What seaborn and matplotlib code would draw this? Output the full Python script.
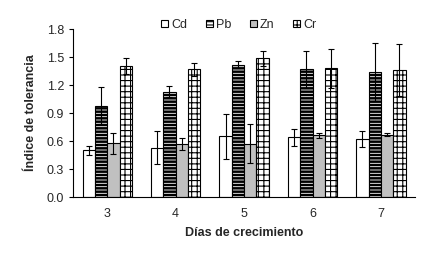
import numpy as np
import pandas as pd
import seaborn as sns
import matplotlib
matplotlib.use("Agg")
import matplotlib.pyplot as plt

days = ["3", "4", "5", "6", "7"]
metals = ["Cd", "Pb", "Zn", "Cr"]
cd = [0.50, 0.53, 0.65, 0.64, 0.62]
pb = [0.98, 1.13, 1.42, 1.37, 1.34]
zn = [0.575, 0.565, 0.57, 0.66, 0.67]
cr = [1.405, 1.37, 1.485, 1.38, 1.36]
cd_err = [0.045, 0.18, 0.24, 0.09, 0.085]
pb_err = [0.20, 0.06, 0.035, 0.20, 0.31]
zn_err = [0.115, 0.065, 0.21, 0.03, 0.02]
cr_err = [0.09, 0.07, 0.085, 0.21, 0.28]

colors = ["white", "black", "#c0c0c0", "white"]
hatches = [None, "-----", None, "+++"]

sns.set_style("white")
plt.rcParams["font.family"] = ["Liberation Sans", "DejaVu Sans"]
plt.rcParams["font.size"] = 9
plt.rcParams["hatch.linewidth"] = 0.8

vals = [cd, pb, zn, cr]
errs = [cd_err, pb_err, zn_err, cr_err]
df = pd.DataFrame({
    "day": np.tile(days, 4),
    "metal": np.repeat(metals, 5),
    "value": np.concatenate(vals),
})

fig = plt.figure(figsize=(4.32, 2.62), dpi=100)
ax = fig.add_axes([0.169, 0.248, 0.792, 0.641])

sns.barplot(data=df, x="day", y="value", hue="metal", order=days, hue_order=metals,
            palette=["white"] * 4, edgecolor="black", linewidth=0.8,
            width=0.72, errorbar=None, ax=ax, legend=False, saturation=1)

bars = list(ax.containers)
for i, cont in enumerate(bars):
    for bar in cont:
        if hatches[i] == "-----":
            bar.set_facecolor("white")
            bar.set_hatch(hatches[i])
            if hasattr(bar, "set_hatch_linewidth"):
                bar.set_hatch_linewidth(1.8)
        elif hatches[i]:
            bar.set_facecolor("white")
            bar.set_hatch(hatches[i])
        else:
            bar.set_facecolor(colors[i])
    xs = [b.get_x() + b.get_width() / 2 for b in cont]
    ax.errorbar(xs, vals[i], yerr=errs[i], fmt="none", ecolor="black",
                elinewidth=0.8, capsize=2.5, capthick=0.8, zorder=5)

ax.set_xlim(-0.5, 4.5)
ax.set_ylim(0, 1.8)
ax.set_yticks(np.arange(0, 1.81, 0.3))
ax.set_yticklabels([f"{v:.1f}" for v in np.arange(0, 1.81, 0.3)])
ax.set_xticks(np.arange(-0.5, 4.6, 1.0))
ax.set_xticklabels([])
ax.set_xticks(range(5), minor=True)
ax.set_xticklabels(days, minor=True)
ax.tick_params(axis="x", which="major", direction="out", length=3, width=0.8, color="black")
ax.tick_params(axis="x", which="minor", length=0, pad=8)
ax.tick_params(axis="y", direction="out", length=3, width=0.8, color="black", left=True)
for s in ["top", "right"]:
    ax.spines[s].set_visible(False)
for s in ["left", "bottom"]:
    ax.spines[s].set_color("black")
    ax.spines[s].set_linewidth(0.8)

ax.set_xlabel("Días de crecimiento", fontweight="bold", labelpad=5)
ax.set_ylabel("Índice de tolerancia", fontweight="bold", labelpad=7)

handles = [bars[i][0] for i in range(4)]
fig.legend(handles, metals, loc="center", bbox_to_anchor=(0.553, 0.905), ncol=4,
           frameon=False, handlelength=0.55, handleheight=0.55, handletextpad=0.25,
           columnspacing=1.5, fontsize=9)

fig.savefig("out.png", dpi=100)
